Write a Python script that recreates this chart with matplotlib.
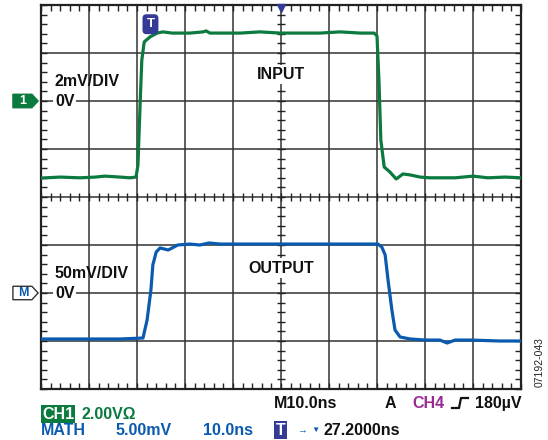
import numpy as np
import matplotlib
matplotlib.use("Agg")
import matplotlib.pyplot as plt
from matplotlib.patches import Polygon
from matplotlib.lines import Line2D

plt.rcParams['font.family'] = ['Liberation Sans', 'DejaVu Sans']

# scope settings
t_div = 10.0          # ns per division
in_div = 2.0          # mV per division (CH1)
out_div = 50.0        # mV per division (MATH)
in_zero = 2.0         # divisions above screen centre
out_zero = -2.0

# input trace (ns, mV)
in_t = [0, 4.0, 8.1, 11.3, 13.3, 16.5, 18.5, 19.8, 20.2, 20.6, 21.0, 21.5, 22.7, 24.2,
        25.4, 27.3, 31.0, 33.8, 34.4, 35.2, 38.3, 41.5, 45.6, 49.8, 54.0, 58.1, 62.3,
        66.5, 69.4, 70.0, 70.4, 70.8, 71.5, 72.7, 74.0, 75.4, 76.9, 79.0, 81.0, 83.1,
        86.3, 90.0, 93.1, 96.7, 100]
in_mv = [-3.21, -3.17, -3.2, -3.17, -3.13, -3.17, -3.2, -3.17, -2.67, -0.38, 1.7, 2.46,
         2.67, 2.83, 2.88, 2.83, 2.83, 2.88, 2.92, 2.83, 2.83, 2.83, 2.88, 2.83, 2.83,
         2.83, 2.88, 2.83, 2.83, 2.71, 0.88, -1.63, -2.75, -2.96, -3.25, -3.04, -3.08,
         -3.17, -3.2, -3.2, -3.2, -3.13, -3.2, -3.17, -3.2]

# output trace (ns, mV)
out_t = [0, 8.1, 16.5, 21.25, 22.1, 22.9, 23.3, 24.0, 24.8, 26.5, 28.5, 31.0, 33.1, 35.0,
         37.3, 41.5, 47.7, 54.0, 62.3, 70.2, 71.0, 71.7, 72.3, 73.1, 73.75, 74.8, 76.9,
         80.0, 83.1, 84.6, 86.3, 89.4, 95.6, 100]
out_mv = [-47.9, -47.9, -47.9, -46.9, -28.1, 3.1, 29.2, 42.7, 46.9, 44.8, 50, 51, 50, 52.1,
          51, 51, 51, 51, 51, 51, 47.9, 39.6, 13.5, -17.7, -38.5, -45.8, -47.9, -49, -49,
          -52.1, -49, -49, -50, -50]

green = '#0b7a3e'
blue = '#0a5bb0'
navy = '#343a96'
purple = '#9a2a92'
gridc = '#333333'

fig = plt.figure(figsize=(5.48, 4.40), dpi=100)
ax = fig.add_axes([41/548, 51/440, 480/548, 384/440])
ax.set_xlim(0, 100)
ax.set_ylim(-4, 4)

# graticule
for x in np.arange(10, 100, 10):
    ax.axvline(x, color=gridc, lw=1.1, zorder=1)
for y in np.arange(-3, 4, 1):
    ax.axhline(y, color=gridc, lw=1.1, zorder=1)
for s in ax.spines.values():
    s.set_linewidth(1.6)
    s.set_color('#222222')
ax.set_xticks(np.arange(0, 101, 2))
ax.set_yticks(np.arange(-4, 4.01, 0.2))
ax.tick_params(direction='in', length=4, width=1, color='#222222',
               top=True, right=True, labelbottom=False, labelleft=False)
# centre cross ticks
ax.plot(np.arange(0, 101, 2), np.zeros(51), ls='none', marker='|', ms=6, mew=1,
        color='#222222', zorder=2)
ax.plot(np.full(41, 50.0), np.arange(-4, 4.01, 0.2), ls='none', marker='_', ms=6, mew=1,
        color='#222222', zorder=2)

# traces
ax.plot(in_t, np.array(in_mv) / in_div + in_zero, color=green, lw=2.3, zorder=4,
        solid_joinstyle='round')
ax.plot(out_t, np.array(out_mv) / out_div + out_zero, color=blue, lw=2.3, zorder=4,
        solid_joinstyle='round')

lab = dict(fontsize=11.5, fontweight='bold', color='#111111', zorder=5)
wb = dict(facecolor='white', edgecolor='none', pad=1.5)
ax.text(2.9, 2.4, '2mV/DIV', ha='left', va='center', **lab)
ax.text(2.9, 2.0, '0V', ha='left', va='center', bbox=wb, **lab)
ax.text(50, 2.55, 'INPUT', ha='center', va='center', bbox=wb, **lab)
ax.text(2.9, -1.6, '50mV/DIV', ha='left', va='center', **lab)
ax.text(2.9, -2.0, '0V', ha='left', va='center', bbox=wb, **lab)
ax.text(50, -1.48, 'OUTPUT', ha='center', va='center', bbox=wb, **lab)

# channel markers
def chan_marker(yc, fc, ec, txt, tc):
    pts = [(-5.85, yc + 0.14), (-1.9, yc + 0.14), (-0.6, yc), (-1.9, yc - 0.14),
           (-5.85, yc - 0.14)]
    ax.add_patch(Polygon(pts, closed=True, facecolor=fc, edgecolor=ec, lw=1,
                         clip_on=False, zorder=6))
    ax.text(-3.7, yc, txt, ha='center', va='center', fontsize=9, fontweight='bold',
            color=tc, clip_on=False, zorder=7)

chan_marker(in_zero, green, green, '1', 'white')
chan_marker(out_zero, 'white', '#333333', 'M', blue)

# trigger markers
ax.text(22.8, 3.6, 'T', ha='center', va='center', fontsize=9.5, fontweight='bold',
        color='white', zorder=6,
        bbox=dict(boxstyle='round,pad=0.3', facecolor=navy, edgecolor='none'))
ax.plot([50], [3.93], marker='v', ms=6, color=navy, clip_on=False, zorder=6)

# readouts
ft = dict(fontsize=11.5, fontweight='bold', va='center')
fig.text(274/548, 1 - 403/440, 'M10.0ns', color='#111111', **ft)
fig.text(385/548, 1 - 403/440, 'A', color='#111111', **ft)
fig.text(412/548, 1 - 403/440, 'CH4', color=purple, **ft)
fig.add_artist(Line2D(np.array([452, 459, 461, 468]) / 548,
                      1 - np.array([408, 408, 398, 398]) / 440,
                      color='#111111', lw=1.6, transform=fig.transFigure))
fig.text(522/548, 1 - 403/440, '180\u00b5V', color='#111111', ha='right', **ft)

fig.text(42/548, 1 - 414/440, 'CH1', color='white',
         bbox=dict(facecolor=green, edgecolor='none', pad=0.8), **ft)
fig.text(82/548, 1 - 414/440, '2.00V\u03a9', color=green, **ft)
fig.text(41/548, 1 - 430/440, 'MATH', color=blue, **ft)
fig.text(115/548, 1 - 430/440, '5.00mV', color=blue, **ft)
fig.text(203/548, 1 - 430/440, '10.0ns', color=blue, **ft)
fig.text(276/548, 1 - 430/440, 'T', color='white',
         bbox=dict(facecolor=navy, edgecolor='none', pad=1.2), **ft)
fig.text(297/548, 1 - 430/440, '\u2192', color=blue, fontsize=7, va='center')
fig.text(311/548, 1 - 430/440, '\u25bc', color=blue, fontsize=6, va='center')
fig.text(323/548, 1 - 430/440, '27.2000ns', color='#111111', **ft)

fig.text(540/548, 1 - 362/440, '07192-043', rotation=90, ha='center', va='center',
         fontsize=7.5, color='#222222')

fig.savefig('out.png', dpi=100)
